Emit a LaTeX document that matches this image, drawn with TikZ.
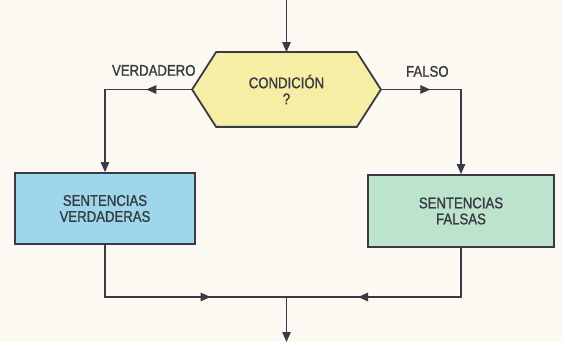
\documentclass[tikz,border=0pt]{standalone}
\usepackage{fontspec}
\setmainfont{Liberation Sans}[FakeStretch=0.85,FakeBold=1.2]
\usepackage{xcolor}
\usepackage{tikz}
\usetikzlibrary{positioning,arrows.meta,backgrounds,decorations.markings}
\definecolor{ink}{RGB}{58,58,68}
\definecolor{paper}{RGB}{251,249,241}
\definecolor{condfill}{RGB}{247,238,166}
\definecolor{truefill}{RGB}{158,214,236}
\definecolor{falsefill}{RGB}{188,227,204}

\begin{document}
\begin{tikzpicture}[
  x=1pt,y=-1pt,
  font=\fontsize{15.5}{16}\selectfont,
  >={Triangle[length=10pt,width=8.5pt]},
  flow/.style={draw=ink,color=ink,line width=1.2pt},
  box/.style={draw=ink,line width=1.8pt,align=center,text=ink,inner sep=0pt},
  lbl/.style={text=ink,inner sep=0pt},
  midarrow/.style={postaction={decorate},decoration={markings,
      mark=at position #1 with {\arrow{>}}}}
]
\useasboundingbox (0,0) rectangle (563,342);
% ---- decision ----
\node[box,draw=none,minimum width=187pt,minimum height=73pt] (cond) at (286.5,89.5)
  {CONDICIÓN\\?};
\begin{scope}[on background layer]
  \fill[paper] (0,0) rectangle (563,342);
  \draw[ink,line width=1.8pt,fill=condfill]
    (cond.west) -- ([xshift=24pt]cond.north west) -- ([xshift=-24pt]cond.north east)
    -- (cond.east) -- ([xshift=-24pt]cond.south east) -- ([xshift=24pt]cond.south west)
    -- cycle;
\end{scope}
% ---- the two branches ----
\node[box,fill=truefill,minimum width=180pt,minimum height=71pt] (vsent) at (105,208.5)
  {SENTENCIAS\\VERDADERAS};
\node[box,fill=falsefill,minimum width=186pt,minimum height=72pt] (fsent) at (461,211)
  {SENTENCIAS\\FALSAS};
\coordinate (entry) at (286.5,0);
\coordinate (join) at (286.5,297);
\coordinate (exit) at (286.5,342);
% ---- connectors ----
\draw[flow,->] (entry) -- (cond.north);
\draw[flow,->,midarrow=0.27] (cond.west) -| (vsent.north)
  node[lbl,pos=0.22,above=13pt] (vlbl) {VERDADERO};
\draw[flow,->,midarrow=0.30] (cond.east) -| (fsent.north)
  node[lbl,pos=0.29,above=12pt] (flbl) {FALSO};
\draw[flow,midarrow=0.675] (vsent.south) |- (join);
\draw[flow,midarrow=0.68] (fsent.south) |- (join);
\draw[flow,->] (join) -- (exit);
\end{tikzpicture}
\end{document}
